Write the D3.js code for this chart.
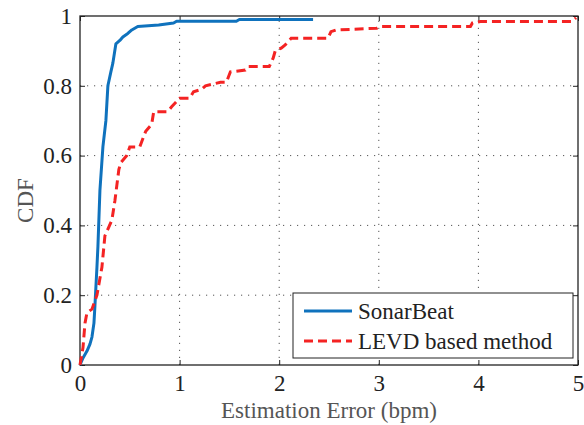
<!DOCTYPE html>
<html><head><meta charset="utf-8">
<script src="https://cdn.jsdelivr.net/npm/d3@7"></script>
<style>body{margin:0;background:#fff;}svg{display:block;}</style>
</head><body>
<svg id="c" width="584" height="425"></svg>
<script>
const xTicks = [0, 1, 2, 3, 4, 5];
const yTicks = [0, 0.2, 0.4, 0.6, 0.8, 1];
const yTickLabels = ["0", "0.2", "0.4", "0.6", "0.8", "1"];
const seriesNames = ["SonarBeat", "LEVD based method"];
const sonarX = [0, 0.03, 0.07, 0.1, 0.12, 0.14, 0.15, 0.17, 0.18, 0.2, 0.23, 0.26, 0.28, 0.31, 0.33, 0.36, 0.4, 0.43, 0.48, 0.52, 0.58, 0.79, 0.94, 0.97, 1.57, 1.6, 2.34];
const sonarY = [0, 0.02, 0.04, 0.06, 0.08, 0.12, 0.17, 0.28, 0.34, 0.5, 0.625, 0.70, 0.80, 0.84, 0.865, 0.92, 0.93, 0.94, 0.95, 0.96, 0.97, 0.974, 0.98, 0.985, 0.985, 0.99, 0.99];
const levdX = [0, 0.03, 0.05, 0.07, 0.12, 0.17, 0.22, 0.25, 0.32, 0.35, 0.39, 0.41, 0.47, 0.5, 0.6, 0.64, 0.66, 0.72, 0.74, 0.88, 0.92, 1.0, 1.1, 1.14, 1.22, 1.26, 1.41, 1.47, 1.51, 1.66, 1.69, 1.9, 1.94, 1.96, 2.02, 2.06, 2.12, 2.49, 2.52, 2.57, 2.98, 3.01, 3.92, 3.94, 4.02, 4.94, 4.98];
const levdY = [0, 0.05, 0.12, 0.15, 0.16, 0.2, 0.28, 0.37, 0.415, 0.47, 0.56, 0.58, 0.6, 0.625, 0.625, 0.655, 0.67, 0.69, 0.726, 0.726, 0.74, 0.764, 0.764, 0.783, 0.79, 0.80, 0.81, 0.81, 0.84, 0.845, 0.855, 0.855, 0.88, 0.9, 0.908, 0.917, 0.936, 0.936, 0.955, 0.96, 0.965, 0.97, 0.97, 0.98, 0.984, 0.984, 0.995];

const svg = d3.select("#c");
const L = 80, R = 578, T = 16, B = 365;
const x = d3.scaleLinear().domain([0, 5]).range([L, R]);
const y = d3.scaleLinear().domain([0, 1]).range([B, T]);
const font = "Liberation Serif, Times New Roman, serif";
const fs = 23;

// grid
const g = svg.append("g");
g.selectAll(".vg").data(xTicks.slice(1, -1)).enter().append("line")
  .attr("x1", d => x(d)).attr("x2", d => x(d)).attr("y1", B).attr("y2", T)
  .attr("stroke", "#555").attr("stroke-width", 1).attr("stroke-dasharray", "1.2,5.8");
g.selectAll(".hg").data(yTicks.slice(1, -1)).enter().append("line")
  .attr("y1", d => y(d)).attr("y2", d => y(d)).attr("x1", L).attr("x2", R)
  .attr("stroke", "#555").attr("stroke-width", 1).attr("stroke-dasharray", "1.2,5.8");

// axes (inward ticks)
const xAxis = d3.axisBottom(x).tickValues(xTicks).tickSizeInner(-5).tickSizeOuter(0).tickPadding(10).tickFormat(d3.format("d"));
const yAxis = d3.axisLeft(y).tickValues(yTicks).tickSizeInner(-5).tickSizeOuter(0).tickPadding(8).tickFormat((d, i) => yTickLabels[i]);
const ax = svg.append("g").attr("transform", `translate(0,${B})`).call(xAxis);
const ay = svg.append("g").attr("transform", `translate(${L},0)`).call(yAxis);
const axTop = svg.append("g").attr("transform", `translate(0,${T})`).call(d3.axisTop(x).tickValues(xTicks).tickSizeInner(-5).tickSizeOuter(0).tickFormat(""));
const ayR = svg.append("g").attr("transform", `translate(${R},0)`).call(d3.axisRight(y).tickValues(yTicks).tickSizeInner(-5).tickSizeOuter(0).tickFormat(""));
[ax, ay, axTop, ayR].forEach(a => {
  a.attr("font-family", font).attr("font-size", fs);
  a.select(".domain").remove();
  a.selectAll("line").attr("stroke", "#222");
  a.selectAll("text").attr("font-family", font).attr("font-size", fs).attr("fill", "#222");
});
ax.selectAll("text").attr("dy", "0.71em");

// frame
svg.append("rect").attr("x", L).attr("y", T).attr("width", R - L).attr("height", B - T)
  .attr("fill", "none").attr("stroke", "#222").attr("stroke-width", 1.3);

// lines
const line = d3.line().x(d => x(d[0])).y(d => y(d[1]));
svg.append("path").datum(sonarX.map((v, i) => [v, sonarY[i]])).attr("d", line)
  .attr("fill", "none").attr("stroke", "#0F72BD").attr("stroke-width", 3).attr("stroke-linejoin", "round");
svg.append("path").datum(levdX.map((v, i) => [v, levdY[i]])).attr("d", line)
  .attr("fill", "none").attr("stroke", "#F42323").attr("stroke-width", 3).attr("stroke-dasharray", "9,5");

// labels
svg.append("text").attr("x", (L + R) / 2).attr("y", 418).attr("text-anchor", "middle")
  .attr("font-family", font).attr("font-size", fs).attr("fill", "#555").text("Estimation Error (bpm)");
svg.append("text").attr("transform", `translate(33,${(T + B) / 2 + 10}) rotate(-90)`).attr("text-anchor", "middle")
  .attr("font-family", font).attr("font-size", fs).attr("fill", "#555").text("CDF");

// legend
const lg = svg.append("g");
lg.append("rect").attr("x", 293).attr("y", 293).attr("width", 280).attr("height", 65)
  .attr("fill", "#fff").attr("stroke", "#222").attr("stroke-width", 1);
const colors = ["#0F72BD", "#F42323"], dashes = [null, "9,5"];
seriesNames.forEach((n, i) => {
  const yy = 311 + i * 30;
  lg.append("line").attr("x1", 304).attr("x2", 352).attr("y1", yy).attr("y2", yy)
    .attr("stroke", colors[i]).attr("stroke-width", 3).attr("stroke-dasharray", dashes[i]);
  lg.append("text").attr("x", 358).attr("y", yy + 8).attr("font-family", font).attr("font-size", fs)
    .attr("fill", "#222").text(n);
});
</script>
</body></html>
